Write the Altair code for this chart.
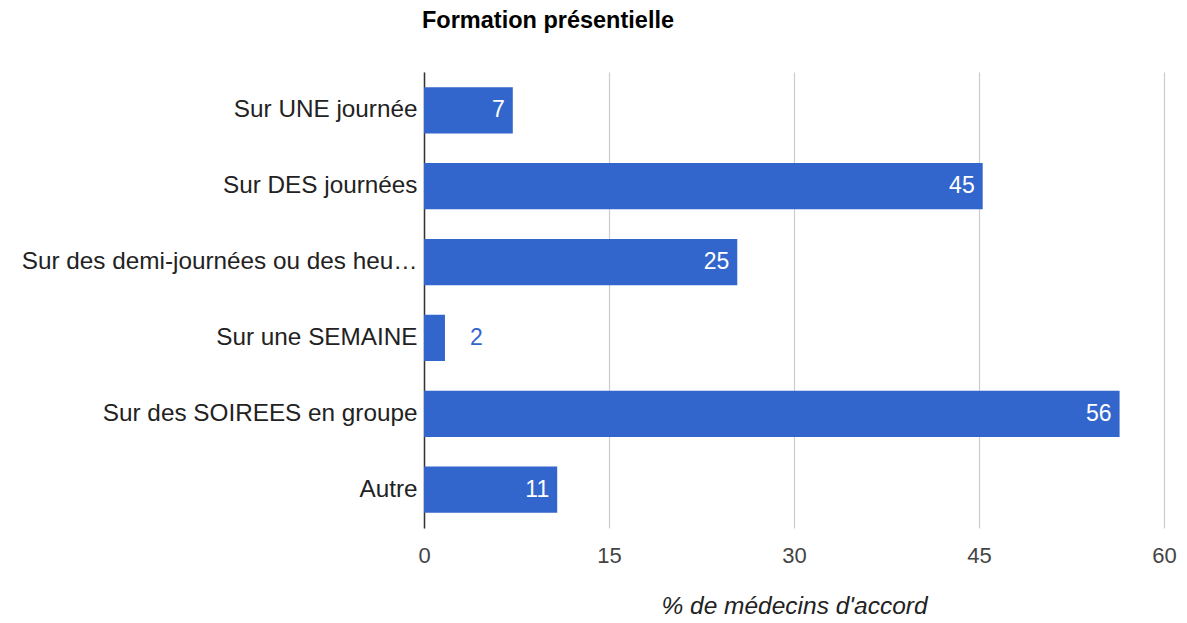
import altair as alt
import pandas as pd

categories = [
    "Sur UNE journée",
    "Sur DES journées",
    "Sur des demi-journées ou des heures",
    "Sur une SEMAINE",
    "Sur des SOIREES en groupe",
    "Autre",
]
values = [7.2, 45.3, 25.4, 1.7, 56.4, 10.8]

df = pd.DataFrame({"cat": categories, "val": values})

FONT = "Liberation Sans"
BLUE = "#3366cc"

y = alt.Y(
    "cat:N",
    sort=categories,
    title=None,
    scale=alt.Scale(paddingInner=0.39, paddingOuter=0.2),
    axis=alt.Axis(
        labelFont=FONT, labelFontSize=24.3, labelColor="#222222",
        labelPadding=7, ticks=False, domainColor="#333333", domainWidth=1.5,
        labelLimit=398, grid=False,
    ),
)
x = alt.X(
    "val:Q",
    title="% de médecins d'accord",
    scale=alt.Scale(domain=[0, 60], nice=False),
    axis=alt.Axis(
        values=[0, 15, 30, 45, 60], labelFont=FONT, labelFontSize=22,
        labelColor="#444444", labelPadding=17, ticks=False, domain=False,
        labelFlush=False,
        grid=True, gridColor="#cccccc", gridWidth=1.2,
        titleFont=FONT, titleFontSize=24.5, titleFontStyle="italic",
        titleFontWeight="normal", titleColor="#222222", titlePadding=28,
    ),
)

bars = alt.Chart(df).mark_bar(color=BLUE).encode(x=x, y=y)

inside = alt.Chart(df).transform_filter("datum.val >= 5").mark_text(
    align="right", baseline="middle", dx=-8, font=FONT, fontSize=23, color="white"
).encode(x="val:Q", y=alt.Y("cat:N", sort=categories), text=alt.Text("val:Q", format=".0f"))

outside = alt.Chart(df).transform_filter("datum.val < 5").mark_text(
    align="left", baseline="middle", dx=25, font=FONT, fontSize=23, color=BLUE
).encode(x="val:Q", y=alt.Y("cat:N", sort=categories), text=alt.Text("val:Q", format=".0f"))

chart = (
    alt.layer(bars, inside, outside)
    .properties(
        width=740, height=456,
        autosize=alt.AutoSizeParams(type="none"),
        padding={"left": 416, "top": 64, "right": 15, "bottom": 95},
        title=alt.TitleParams(
            "Formation présentielle", anchor="start", frame="group",
            font=FONT, fontSize=23.5, fontWeight="bold", color="#000000",
            offset=40, dx=-2,
        ),
    )
    .configure_view(stroke=None)
)

chart.save("out.html", embed_options={"renderer": "svg", "actions": False})
